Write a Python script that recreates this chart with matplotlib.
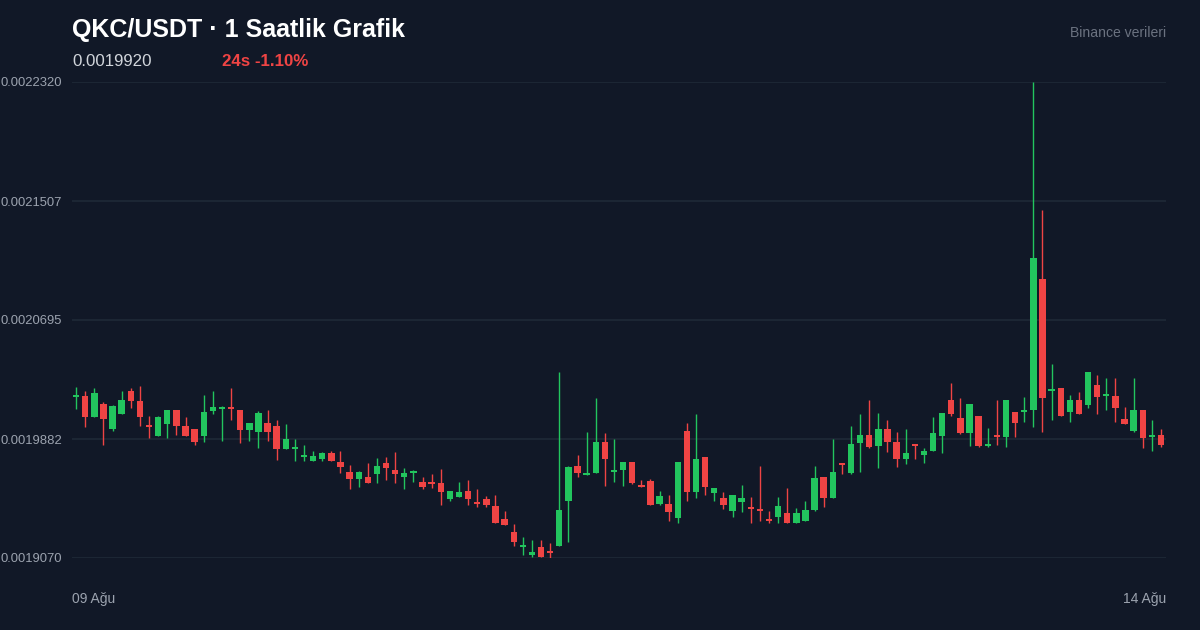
import numpy as np
import matplotlib
matplotlib.use("Agg")
import matplotlib.pyplot as plt

# Renkler
arka = "#111827"
izgara = "#1f2937"
yesil = "#22c55e"
kirmizi = "#ef4444"
etiket = "#9ca3af"

plt.rcParams["font.family"] = ["Liberation Sans", "DejaVu Sans"]

baslik = "QKC/USDT · 1 Saatlik Grafik"
son_fiyat = "0.0019920"
degisim = "24s -1.10%"
kaynak = "Binance verileri"
tarih_etiketleri = ["09 Ağu", "14 Ağu"]
y_ticks = [0.0019070, 0.0019882, 0.0020695, 0.0021507, 0.0022320]

# saatlik mumlar, fiyat x 1e-6
acilis = [2016.9, 2017.6, 2003.3, 2012.2, 1995.1, 2005.4, 2021.0, 2014.2, 1997.8, 1990.3,
          1998.5, 2008.1, 1997.1, 1995.1, 1990.3, 2007.4, 2008.8, 2010.1, 2008.1, 1994.4,
          1993.0, 1999.2, 1997.1, 1981.5, 1981.5, 1976.0, 1973.2, 1974.7, 1978.7, 1972.6,
          1965.7, 1961.0, 1962.3, 1964.4, 1971.9, 1967.1, 1962.3, 1965.1, 1958.9, 1958.9,
          1958.2, 1947.3, 1948.6, 1952.7, 1945.2, 1947.3, 1942.5, 1933.7, 1924.8, 1914.5,
          1909.1, 1914.5, 1911.8, 1915.2, 1945.9, 1969.8, 1963.7, 1965.1, 1986.2, 1965.7,
          1967.1, 1972.6, 1956.9, 1959.6, 1943.9, 1943.9, 1934.3, 1993.7, 1952.0, 1976.0,
          1951.4, 1948.0, 1939.1, 1945.2, 1941.8, 1940.5, 1933.7, 1935.0, 1937.7, 1930.9,
          1932.3, 1939.8, 1962.3, 1948.0, 1971.9, 1965.1, 1985.5, 1991.0, 1983.5, 1995.1,
          1986.2, 1974.7, 1984.9, 1977.4, 1980.1, 1990.3, 2014.9, 2002.7, 1992.4, 2004.0,
          1983.5, 1991.0, 1989.6, 2006.7, 2006.7, 2008.1, 2097.5, 2021.0, 2023.1, 2006.7,
          2014.9, 2011.5, 2025.1, 2017.6, 2017.6, 2002.0, 1993.7, 2008.1, 1989.6, 1991.0]
yuksek = [2023.7, 2021.0, 2023.1, 2013.5, 2011.5, 2021.0, 2023.1, 2024.4, 2004.0, 2004.0,
          2008.1, 2008.1, 2003.3, 1995.1, 2018.3, 2021.0, 2010.8, 2023.1, 2008.1, 1999.2,
          2007.4, 2008.1, 2001.2, 1998.5, 1988.3, 1984.2, 1980.1, 1979.4, 1980.1, 1980.1,
          1970.5, 1966.4, 1971.9, 1975.3, 1976.0, 1979.4, 1968.5, 1967.1, 1962.3, 1964.4,
          1967.8, 1952.7, 1958.9, 1960.3, 1954.2, 1949.3, 1950.0, 1939.1, 1930.3, 1921.4,
          1919.3, 1919.3, 1917.2, 2034.0, 1969.8, 1977.4, 1993.0, 2016.2, 1992.4, 1988.3,
          1972.6, 1972.6, 1960.3, 1961.0, 1952.7, 1950.0, 1972.6, 1999.2, 2005.4, 1976.0,
          1954.8, 1952.0, 1950.0, 1956.9, 1948.6, 1969.8, 1939.1, 1948.6, 1954.8, 1941.1,
          1945.9, 1969.8, 1962.3, 1988.3, 1971.9, 1997.1, 2005.4, 2014.9, 2006.1, 2001.2,
          1993.0, 1995.1, 1984.9, 1982.1, 2003.3, 2006.1, 2026.4, 2016.2, 2012.2, 2004.0,
          1995.8, 2014.9, 2014.9, 2006.7, 2016.9, 2232.0, 2144.6, 2039.5, 2023.1, 2018.3,
          2020.3, 2034.0, 2032.0, 2029.9, 2029.9, 2010.1, 2029.9, 2008.1, 2001.2, 1995.1]
dusuk = [2008.8, 1996.4, 2003.3, 1984.2, 1993.7, 2005.4, 2009.5, 1997.1, 1989.0, 1990.3,
         1989.0, 1991.0, 1990.3, 1984.2, 1986.2, 2005.4, 1986.9, 2001.2, 1985.5, 1986.9,
         1982.1, 1986.9, 1973.9, 1981.5, 1973.2, 1973.2, 1973.2, 1973.2, 1973.2, 1965.1,
         1954.2, 1955.5, 1958.2, 1958.2, 1960.3, 1958.2, 1954.2, 1958.9, 1954.2, 1954.8,
         1943.2, 1945.9, 1948.6, 1943.2, 1941.8, 1941.8, 1930.9, 1929.6, 1915.2, 1909.1,
         1907.7, 1907.7, 1907.0, 1915.2, 1917.9, 1962.3, 1963.7, 1965.1, 1956.2, 1958.9,
         1956.2, 1957.6, 1955.5, 1943.2, 1943.2, 1932.3, 1930.9, 1945.9, 1948.0, 1950.0,
         1945.9, 1940.5, 1935.0, 1938.4, 1930.9, 1932.3, 1930.9, 1930.9, 1930.9, 1930.9,
         1932.3, 1939.1, 1941.8, 1948.0, 1964.4, 1964.4, 1965.7, 1982.1, 1968.5, 1979.4,
         1969.2, 1971.2, 1974.7, 1971.9, 1980.1, 1978.7, 2004.0, 1991.7, 1983.5, 1982.8,
         1982.8, 1984.2, 1982.8, 1989.6, 1999.8, 1996.4, 1993.0, 2001.2, 2004.0, 1999.8,
         2005.4, 2009.5, 2005.4, 2008.1, 1999.8, 1998.5, 1993.0, 1982.1, 1980.1, 1982.8]
kapanis = [2018.3, 2003.3, 2019.6, 2002.0, 2010.8, 2014.9, 2014.2, 2003.3, 1996.4, 2003.3,
           2008.1, 1997.1, 1990.3, 1986.2, 2006.7, 2010.1, 2010.1, 2008.8, 1994.4, 1999.2,
           2006.1, 1993.0, 1981.5, 1988.3, 1982.8, 1977.4, 1976.7, 1978.7, 1973.2, 1969.2,
           1961.0, 1965.7, 1958.2, 1969.8, 1968.5, 1964.4, 1965.1, 1966.4, 1955.5, 1957.6,
           1952.0, 1952.7, 1952.0, 1947.3, 1943.9, 1943.2, 1930.9, 1929.6, 1917.9, 1915.9,
           1911.1, 1907.7, 1910.4, 1939.8, 1969.2, 1965.1, 1965.1, 1986.2, 1974.7, 1967.1,
           1972.6, 1958.2, 1955.5, 1943.2, 1949.3, 1938.4, 1972.6, 1952.0, 1974.7, 1955.5,
           1954.8, 1943.2, 1950.0, 1948.0, 1940.5, 1939.1, 1932.3, 1942.5, 1930.9, 1937.7,
           1939.8, 1961.7, 1948.0, 1965.7, 1970.5, 1984.9, 1991.0, 1982.8, 1995.1, 1986.2,
           1974.7, 1978.7, 1983.5, 1980.1, 1992.4, 2006.1, 2005.4, 1992.4, 2012.2, 1983.5,
           1984.9, 1989.6, 2014.9, 1999.2, 2008.1, 2111.8, 2016.2, 2022.4, 2004.0, 2014.9,
           2005.4, 2034.0, 2016.9, 2018.9, 2009.5, 1998.5, 2008.1, 1989.0, 1991.0, 1984.2]

o = np.array(acilis) * 1e-6
h = np.array(yuksek) * 1e-6
l = np.array(dusuk) * 1e-6
c = np.array(kapanis) * 1e-6
x = np.arange(len(o))
renk = np.where(c >= o, yesil, kirmizi)

fig = plt.figure(figsize=(12, 6.3), dpi=100, facecolor=arka)
ax = fig.add_axes([0.06, 1 - 558 / 630, (1166 - 72) / 1200, (558 - 82) / 630])
ax.set_facecolor(arka)

# fitiller ve govdeler
ax.vlines(x, l, h, colors=renk, linewidth=1.0, zorder=2)
govde = np.maximum(np.abs(c - o), 0.0000013)
alt = np.minimum(o, c)
ax.bar(x, govde, bottom=alt, width=0.7, color=renk, linewidth=0, zorder=3)

ax.set_xlim(-0.45, len(o) - 0.45)
ax.set_ylim(y_ticks[0], y_ticks[-1])
ax.set_yticks(y_ticks)
ax.set_yticklabels([f"{v:.7f}" for v in y_ticks])
ax.set_xticks([])
ax.tick_params(axis="y", length=0, pad=7, labelsize=9.4, labelcolor=etiket)
ax.grid(axis="y", color=izgara, linewidth=1.2, zorder=0)
ax.set_axisbelow(True)
for s in ax.spines.values():
    s.set_visible(False)

ax.text(0, -41 / 476, tarih_etiketleri[0], transform=ax.transAxes, ha="left",
        va="center", fontsize=10, color=etiket)
ax.text(1, -41 / 476, tarih_etiketleri[1], transform=ax.transAxes, ha="right",
        va="center", fontsize=10, color=etiket)

fig.text(72 / 1200, 1 - 30 / 630, baslik, ha="left", va="center", fontsize=18,
         fontweight="bold", color="white")
fig.text(72 / 1200, 1 - 61 / 630, son_fiyat, ha="left", va="center", fontsize=12.2,
         color="#d1d5db")
fig.text(222 / 1200, 1 - 61 / 630, degisim, ha="left", va="center", fontsize=12.2,
         fontweight="bold", color=kirmizi)
fig.text(1166 / 1200, 1 - 33 / 630, kaynak, ha="right", va="center", fontsize=10.1,
         color="#6b7280")

fig.savefig("out.png", dpi=100, facecolor=arka)
